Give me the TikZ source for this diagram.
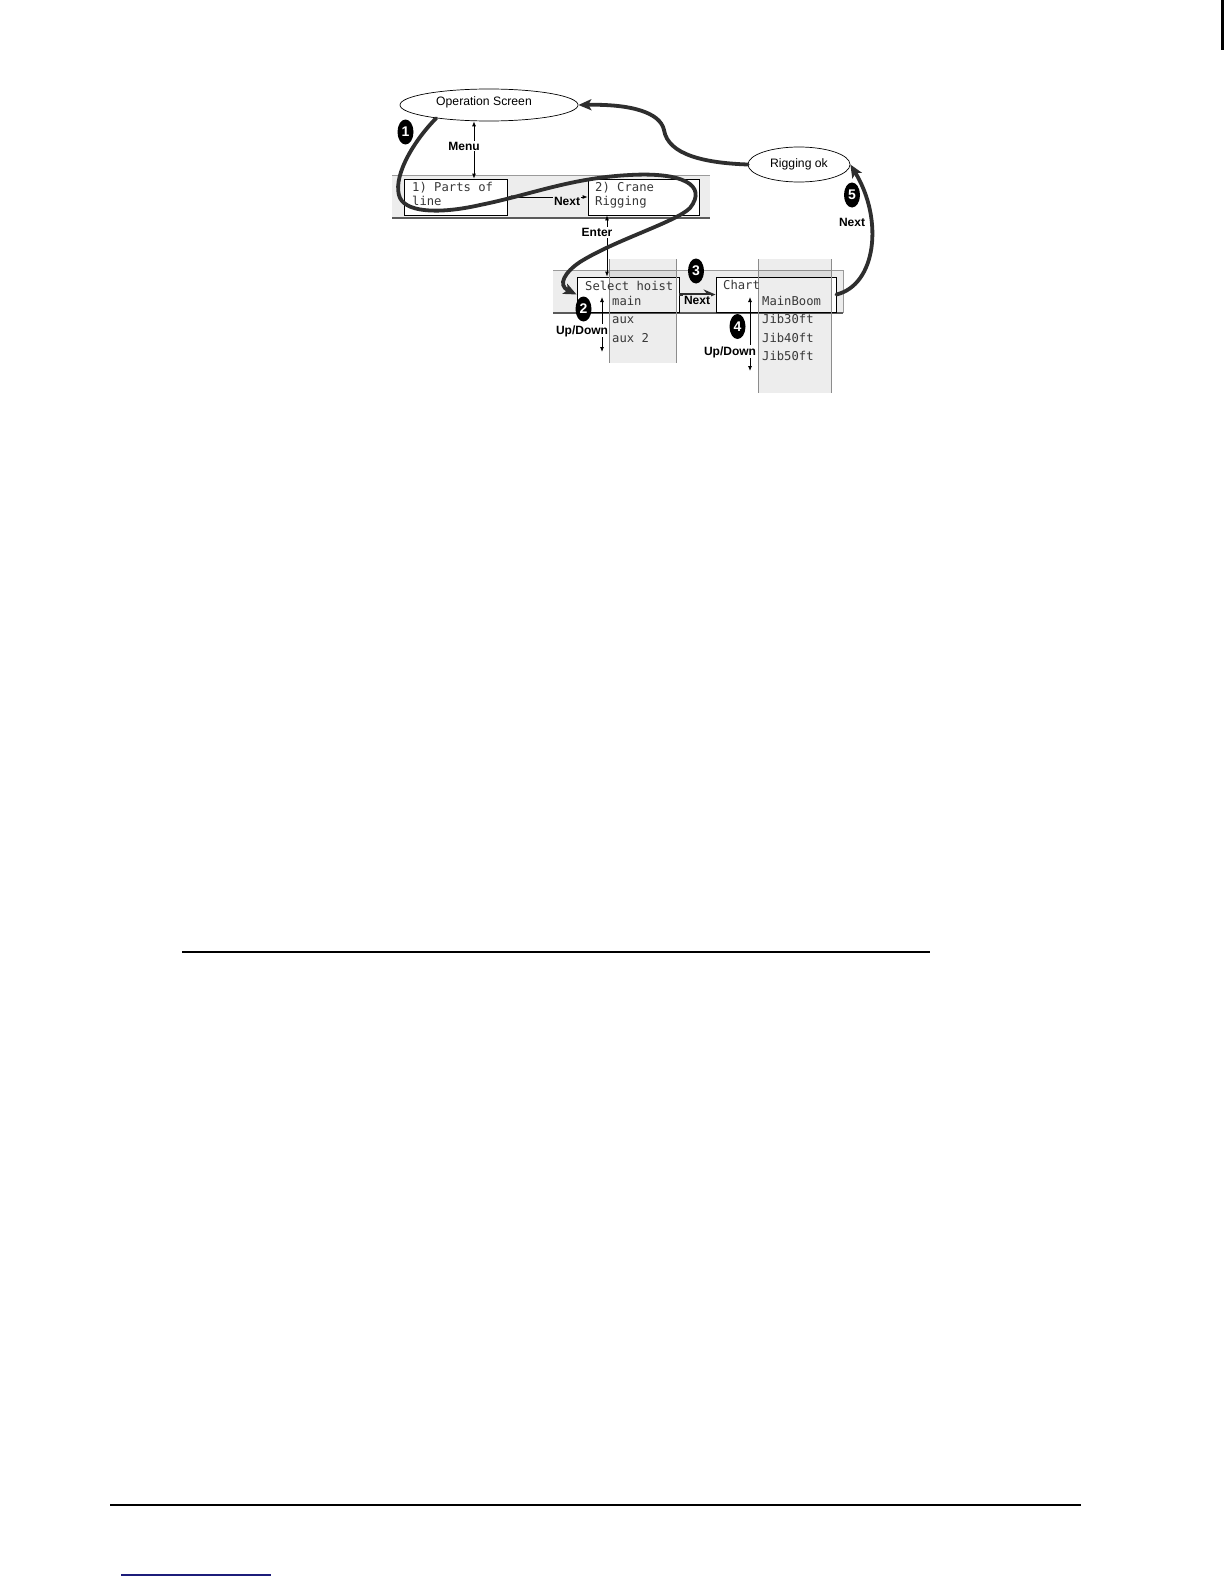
\documentclass[tikz,border=0pt]{standalone}
\usepackage{fontspec}
\setmainfont{Liberation Sans}
\newfontfamily\monofont{DejaVu Sans Mono}
\usetikzlibrary{arrows.meta,shapes.geometric}
\definecolor{curvec}{HTML}{2E2E2E}
\definecolor{bandc}{HTML}{EDEDED}
\definecolor{bandtop}{HTML}{9A9A9A}
\definecolor{bandbot}{HTML}{5A5A5A}
\definecolor{colline}{HTML}{8C8C8C}
\definecolor{navyline}{HTML}{1C1C7A}
\begin{document}
\begin{tikzpicture}[x=1pt,y=-1pt,
 curve/.style={draw=curvec, line width=3.8pt, line cap=round, -{Stealth[length=13pt,width=11pt,inset=3pt]}},
 dbl/.style={draw=black, line width=0.8pt, {Latex[length=5pt,width=4pt]}-{Latex[length=5pt,width=4pt]}},
 mono/.style={font=\monofont\fontsize{12.2}{14}\selectfont, text=black!78, inner sep=0pt, anchor=base west},
 lbl/.style={font=\bfseries\fontsize{12}{13}\selectfont, inner sep=1pt, anchor=base},
 num/.style={ellipse, fill=black, minimum width=16pt, minimum height=25pt, inner sep=0pt, text=white, font=\bfseries\fontsize{14}{14}\selectfont},
 screen/.style={draw=black, line width=0.8pt, fill=white, inner sep=0pt},
 oval/.style={ellipse, draw=black, line width=0.7pt, fill=white, inner sep=0pt},
 ovaltext/.style={font=\fontsize{12.2}{14}\selectfont, inner sep=0pt, anchor=base},
]
\useasboundingbox (0,0) rectangle (1224,1584);
\fill[white] (0,0) rectangle (1224,1584);

% bands
\fill[bandc] (392,175) rectangle (710,218);
\draw[bandtop, line width=0.8pt] (392,175) -- (710,175);
\draw[bandbot, line width=1.6pt] (392,218) -- (710,218);
\fill[bandc] (553,270) rectangle (843,313);
\draw[bandtop, line width=0.8pt] (553,270) -- (843,270);
\draw[bandbot, line width=1.6pt] (553,313) -- (843,313);
\draw[bandtop, line width=0.8pt] (843,270) -- (843,313);

% screens
\node[screen, minimum width=103pt, minimum height=36pt] (box1) at (455.5,197) {};
\node[screen, minimum width=111pt, minimum height=36pt] (box2) at (643.5,197) {};
\node[screen, minimum width=102pt, minimum height=35pt] (box3) at (628,294.5) {};
\node[screen, minimum width=120pt, minimum height=35pt] (box4) at (776,294.5) {};

% list columns
\fill[black, fill opacity=0.07] (609,259) rectangle (676,363);
\draw[colline, line width=0.8pt] (609,259) -- (609,363) (676,259) -- (676,363);
\fill[black, fill opacity=0.07] (758,259) rectangle (831,393);
\draw[colline, line width=0.8pt] (758,259) -- (758,393) (831,259) -- (831,393);

% ovals
\node[oval, minimum width=178pt, minimum height=32pt] (opscreen) at (489,105) {};
\node[ovaltext] (optext) at (484,106) {Operation Screen};
\node[oval, minimum width=102pt, minimum height=35pt] (rigok) at (799,164.5) {};
\node[ovaltext] (rigtext) at (799,167.5) {Rigging ok};

% thin arrows
\coordinate (mx) at (474,0);
\draw[dbl] (opscreen.south -| mx) -- (box1.north -| mx);
\draw[dbl] (box1.east) -- (box2.west);
\coordinate (ex) at (607,0);
\draw[dbl] (box2.south -| ex) -- (box3.north -| ex);
\coordinate (uda) at (602,297);
\coordinate (udb) at (602,352);
\draw[dbl] (uda) -- (udb);
\coordinate (udc) at (750,297);
\coordinate (udd) at (750,371);
\draw[dbl] (udc) -- (udd);
\draw[draw=curvec, line width=3pt, -{Stealth[length=12pt,width=10pt]}] (box3.east) -- (box4.west);

% labels
\node[lbl, fill=white] (menu) at (464,150.2) {Menu};
\node[lbl, fill=bandc] (next1) at (567,205) {Next};
\node[lbl, fill=white] (enter) at (597,236.5) {Enter};
\node[lbl, fill=white] (upd1) at (582,334) {Up/Down};
\node[lbl, fill=white] (upd2) at (730,355) {Up/Down};
\node[lbl, fill=bandc] (next2) at (697,304) {Next};
\node[lbl] (next3) at (852,226) {Next};

% screen texts
\node[mono] (t1a) at (412,191) {1) Parts of};
\node[mono] (t1b) at (412,205) {line};
\node[mono] (t2a) at (595,191) {2) Crane};
\node[mono] (t2b) at (595,205) {Rigging};
\node[mono] (t3a) at (585,290) {Select hoist};
\node[mono] (t3b) at (612,305) {main};
\node[mono] (t3c) at (612,323) {aux};
\node[mono] (t3d) at (612,342) {aux 2};
\node[mono] (t4a) at (723,289) {Chart};
\node[mono] (t4b) at (762,305) {MainBoom};
\node[mono] (t4c) at (762,323) {Jib30ft};
\node[mono] (t4d) at (762,342) {Jib40ft};
\node[mono] (t4e) at (762,360) {Jib50ft};

% flow curves
\draw[curve] (opscreen.-166) .. controls (410,145) and (392,180) .. (400,198)
  .. controls (408,214) and (445,213) .. (480,205)
  .. controls (530,195) and (570,178) .. (630,175)
  .. controls (682,172) and (708,185) .. (690,208)
  .. controls (676,222) and (615,240) .. (580,262)
  .. controls (565,272) and (557,285) .. (box3.west);
\draw[curve] (rigok.west) .. controls (705,163) and (668,155) .. (664,130)
  .. controls (660,112) and (630,104) .. (opscreen.east);
\draw[curve] (box4.east) .. controls (876,285) and (884,220) .. (rigok.east);

% step numbers
\node[num] (n1) at (405.5,132) {1};
\node[num] (n2) at (583.5,309) {2};
\node[num] (n3) at (696,271) {3};
\node[num] (n4) at (737.5,326.5) {4};
\node[num] (n5) at (852,195) {5};

% page rules
\draw[line width=2.6pt] (182,952) -- (930,952);
\draw[line width=1.8pt] (110,1505) -- (1081,1505);
\draw[navyline, line width=1.5pt] (121,1575) -- (271,1575);
\fill[black] (1221,0) rectangle (1224,50);
\end{tikzpicture}
\end{document}
